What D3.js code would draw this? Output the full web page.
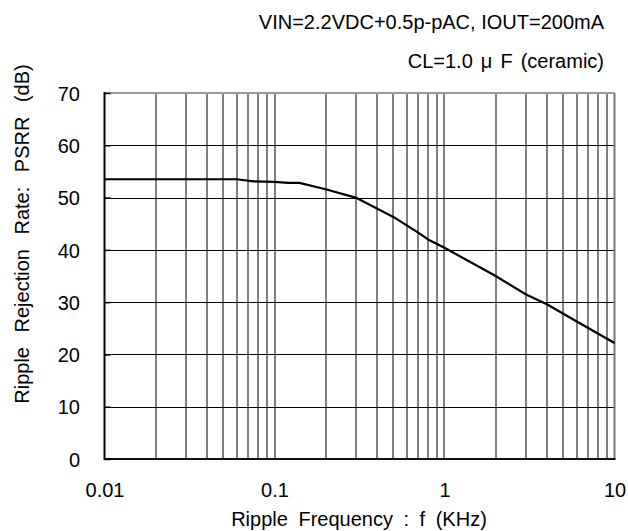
<!DOCTYPE html>
<html>
<head>
<meta charset="utf-8">
<script src="https://cdn.jsdelivr.net/npm/d3@7"></script>
<style>
  html, body { margin: 0; padding: 0; background: #fff; }
  text { font-family: Arial, "Liberation Sans", sans-serif; fill: #000; }
</style>
</head>
<body>
<svg id="chart" width="628" height="531"></svg>
<script>
// Data
const freq = [0.01, 0.02, 0.04, 0.06, 0.075, 0.1, 0.12, 0.14, 0.2, 0.3, 0.5, 0.7, 0.8, 1.0, 2.0, 3.0, 4.0, 6.0, 10];
const psrr = [53.5, 53.5, 53.5, 53.5, 53.1, 53.0, 52.8, 52.8, 51.6, 50.0, 46.3, 43.3, 42.0, 40.4, 35.0, 31.5, 29.6, 26.3, 22.2];
const xTickValues = [0.01, 0.1, 1, 10];
const xTickLabels = ["0.01", "0.1", "1", "10"];
const yTickValues = [0, 10, 20, 30, 40, 50, 60, 70];
const titleLines = ["VIN=2.2VDC+0.5p-pAC, IOUT=200mA", "CL=1.0 μ F (ceramic)"];
const xTitle = "Ripple Frequency : f (KHz)";
const yTitle = "Ripple Rejection Rate: PSRR (dB)";

const svg = d3.select("#chart");
const L = 104.5, R = 614.5, T = 93, B = 459;
const x = d3.scaleLog().domain([0.01, 10]).range([L, R]);
const y = d3.scaleLinear().domain([0, 70]).range([B, T]);

// minor/major vertical grid (1..9 per decade)
const vGrid = [];
for (let e = -2; e < 1; e++) {
  for (let m = 1; m <= 9; m++) {
    const v = m * Math.pow(10, e);
    if (v > 0.01 && v < 10) vGrid.push(v);
  }
}
svg.append("g").selectAll("line").data(vGrid).join("line")
  .attr("x1", d => Math.round(x(d))).attr("x2", d => Math.round(x(d)))
  .attr("y1", T).attr("y2", B)
  .attr("stroke", "#000").attr("stroke-width", 1);

// horizontal grid
svg.append("g").selectAll("line").data(yTickValues.filter(v => v > 0 && v < 70)).join("line")
  .attr("x1", L).attr("x2", R)
  .attr("y1", d => Math.round(y(d)) + 0.5).attr("y2", d => Math.round(y(d)) + 0.5)
  .attr("stroke", "#000").attr("stroke-width", 1);

// frame
svg.append("line").attr("x1", L).attr("x2", R).attr("y1", T).attr("y2", T).attr("stroke", "#999").attr("stroke-width", 2);
svg.append("line").attr("x1", R).attr("x2", R).attr("y1", T).attr("y2", B).attr("stroke", "#777").attr("stroke-width", 2);
svg.append("line").attr("x1", L).attr("x2", L).attr("y1", T - 1).attr("y2", B + 1).attr("stroke", "#000").attr("stroke-width", 2);
svg.append("line").attr("x1", L).attr("x2", R + 1).attr("y1", B).attr("y2", B).attr("stroke", "#111").attr("stroke-width", 2);

// y axis ticks (inward) + labels
const yAxis = d3.axisLeft(y).tickValues(yTickValues).tickSize(-6).tickPadding(30).tickFormat(d3.format("d"));
const gy = svg.append("g").attr("transform", `translate(${L},0)`).call(yAxis);
gy.select(".domain").remove();
gy.selectAll(".tick line").attr("stroke", "#000").attr("stroke-width", 1.5);
gy.selectAll(".tick text").attr("font-size", 20).attr("font-family", "Arial, 'Liberation Sans', sans-serif")
  .attr("x", 80 - L).attr("dy", "0.36em");

// x axis labels
const xAxis = d3.axisBottom(x).tickValues(xTickValues).tickSize(0)
  .tickFormat((d, i) => xTickLabels[i]);
const gx = svg.append("g").attr("transform", `translate(0,${B})`).call(xAxis);
gx.select(".domain").remove();
gx.selectAll(".tick text").attr("font-size", 20).attr("font-family", "Arial, 'Liberation Sans', sans-serif")
  .attr("y", 38).attr("dy", 0);

// curve
const line = d3.line().x(d => x(d[0])).y(d => y(d[1]));
svg.append("path").datum(freq.map((f, i) => [f, psrr[i]]))
  .attr("d", line).attr("fill", "none").attr("stroke", "#000").attr("stroke-width", 2.2)
  .attr("stroke-linejoin", "round");

// titles
svg.append("text").attr("x", 604).attr("y", 29).attr("text-anchor", "end").attr("font-size", 20).text(titleLines[0]);
svg.append("text").attr("x", 604).attr("y", 68).attr("text-anchor", "end").attr("font-size", 20)
  .attr("word-spacing", 2.5).text(titleLines[1]);
svg.append("text").attr("x", 359).attr("y", 526).attr("text-anchor", "middle").attr("font-size", 20)
  .attr("word-spacing", 5).text(xTitle);
svg.append("text").attr("transform", "translate(28.5,234) rotate(-90)").attr("text-anchor", "middle")
  .attr("font-size", 20).attr("word-spacing", 9).text(yTitle);
</script>
</body>
</html>
